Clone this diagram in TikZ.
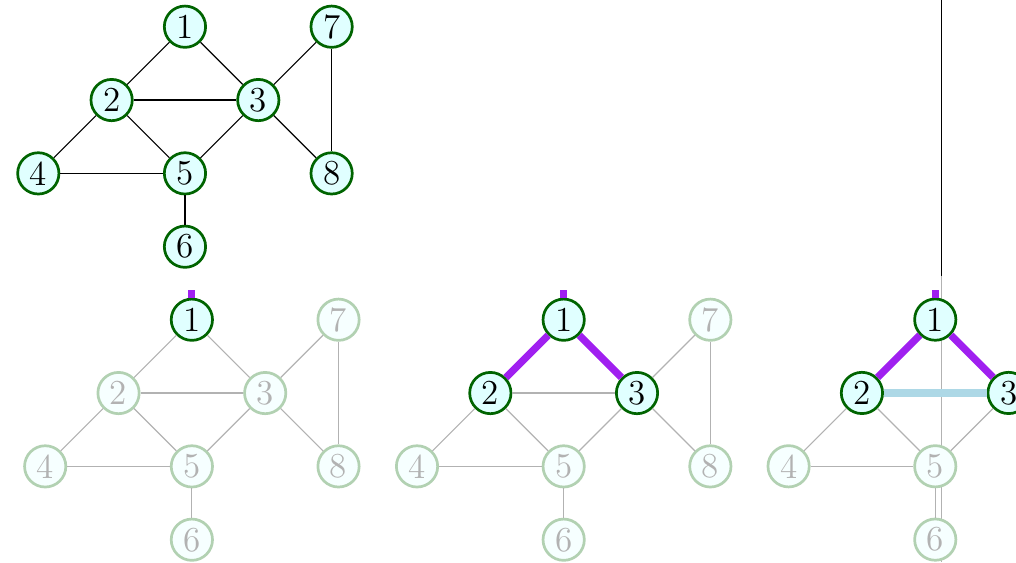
\documentclass[tikz,border=0pt]{standalone}
\definecolor{dgreen}{RGB}{0,100,0}
\definecolor{lcyan}{RGB}{224,255,255}
\definecolor{vpurple}{RGB}{160,32,240}
\definecolor{lblue}{RGB}{173,216,230}
\tikzset{
  vtx/.style={circle, draw=dgreen, fill=lcyan, line width=1.05pt, minimum size=0.563cm, inner sep=0pt, font=\fontsize{13.6}{16}\selectfont},
  fvtx/.style={vtx, draw=dgreen!30, fill=lcyan!30, text=black!30},
  edg/.style={line width=0.45pt, black},
  fedg/.style={line width=0.45pt, black!30},
  treeedge/.style={line width=2.8pt, vpurple},
  crossedge/.style={line width=2.8pt, lblue},
}
\begin{document}
\begin{tikzpicture}[x=1cm, y=-1cm]
\useasboundingbox (0,0) rectangle (13.855,7.664);
\clip (0,0) rectangle (13.855,7.664);

% ---------- top graph ----------
\begin{scope}[shift={(0.5223,0.3641)}, name prefix=a-]
  \node[vtx] (1) at (2,0) {1};
  \node[vtx] (2) at (1,1) {2};
  \node[vtx] (3) at (3,1) {3};
  \node[vtx] (4) at (0,2) {4};
  \node[vtx] (5) at (2,2) {5};
  \node[vtx] (6) at (2,3) {6};
  \node[vtx] (7) at (4,0) {7};
  \node[vtx] (8) at (4,2) {8};
  \draw[edg] (1) -- (2);
  \draw[edg] (1) -- (3);
  \draw[edg] (2) -- (3);
  \draw[edg] (2) -- (4);
  \draw[edg] (2) -- (5);
  \draw[edg] (3) -- (5);
  \draw[edg] (3) -- (7);
  \draw[edg] (3) -- (8);
  \draw[edg] (4) -- (5);
  \draw[edg] (5) -- (6);
  \draw[edg] (7) -- (8);
\end{scope}

% ---------- panel 1 ----------
\begin{scope}[shift={(0.6164,4.3598)}, name prefix=b-]
  \node[vtx] (1) at (2,0) {1};
  \node[fvtx] (2) at (1,1) {2};
  \node[fvtx] (3) at (3,1) {3};
  \node[fvtx] (4) at (0,2) {4};
  \node[fvtx] (5) at (2,2) {5};
  \node[fvtx] (6) at (2,3) {6};
  \node[fvtx] (7) at (4,0) {7};
  \node[fvtx] (8) at (4,2) {8};
  \coordinate (top) at (2,-0.405);
  \draw[treeedge] (1) -- (top);
  \draw[fedg] (1) -- (2);
  \draw[fedg] (1) -- (3);
  \draw[fedg] (2) -- (3);
  \draw[fedg] (2) -- (4);
  \draw[fedg] (2) -- (5);
  \draw[fedg] (3) -- (5);
  \draw[fedg] (3) -- (7);
  \draw[fedg] (3) -- (8);
  \draw[fedg] (4) -- (5);
  \draw[fedg] (5) -- (6);
  \draw[fedg] (7) -- (8);
\end{scope}

% ---------- panel 2 ----------
\begin{scope}[shift={(5.6867,4.3598)}, name prefix=c-]
  \node[vtx] (1) at (2,0) {1};
  \node[vtx] (2) at (1,1) {2};
  \node[vtx] (3) at (3,1) {3};
  \node[fvtx] (4) at (0,2) {4};
  \node[fvtx] (5) at (2,2) {5};
  \node[fvtx] (6) at (2,3) {6};
  \node[fvtx] (7) at (4,0) {7};
  \node[fvtx] (8) at (4,2) {8};
  \coordinate (top) at (2,-0.405);
  \draw[treeedge] (1) -- (top);
  \draw[treeedge] (1) -- (2);
  \draw[treeedge] (1) -- (3);
  \draw[fedg] (2) -- (3);
  \draw[fedg] (2) -- (4);
  \draw[fedg] (2) -- (5);
  \draw[fedg] (3) -- (5);
  \draw[fedg] (3) -- (7);
  \draw[fedg] (3) -- (8);
  \draw[fedg] (4) -- (5);
  \draw[fedg] (5) -- (6);
  \draw[fedg] (7) -- (8);
\end{scope}

% ---------- vertical line ----------
\coordinate (vtop) at (12.837,0);
\coordinate (vmid) at (12.837,3.760);
\coordinate (vbot) at (12.837,7.664);
\draw[edg] (vtop) -- (vmid);
\draw[fedg] (vmid) -- (vbot);

% ---------- panel 3 (right part cut off by the page edge) ----------
\begin{scope}[shift={(10.754,4.3585)}, name prefix=d-]
  \node[vtx] (1) at (2,0) {1};
  \node[vtx] (2) at (1,1) {2};
  \node[vtx] (3) at (3,1) {3};
  \node[fvtx] (4) at (0,2) {4};
  \node[fvtx] (5) at (2,2) {5};
  \node[fvtx] (6) at (2,3) {6};
  \coordinate (top) at (2,-0.405);
  \draw[treeedge] (1) -- (top);
  \draw[treeedge] (1) -- (2);
  \draw[treeedge] (1) -- (3);
  \draw[crossedge] (2) -- (3);
  \draw[fedg] (2) -- (4);
  \draw[fedg] (2) -- (5);
  \draw[fedg] (3) -- (5);
  \draw[fedg] (4) -- (5);
  \draw[fedg] (5) -- (6);
\end{scope}
\end{tikzpicture}
\end{document}
